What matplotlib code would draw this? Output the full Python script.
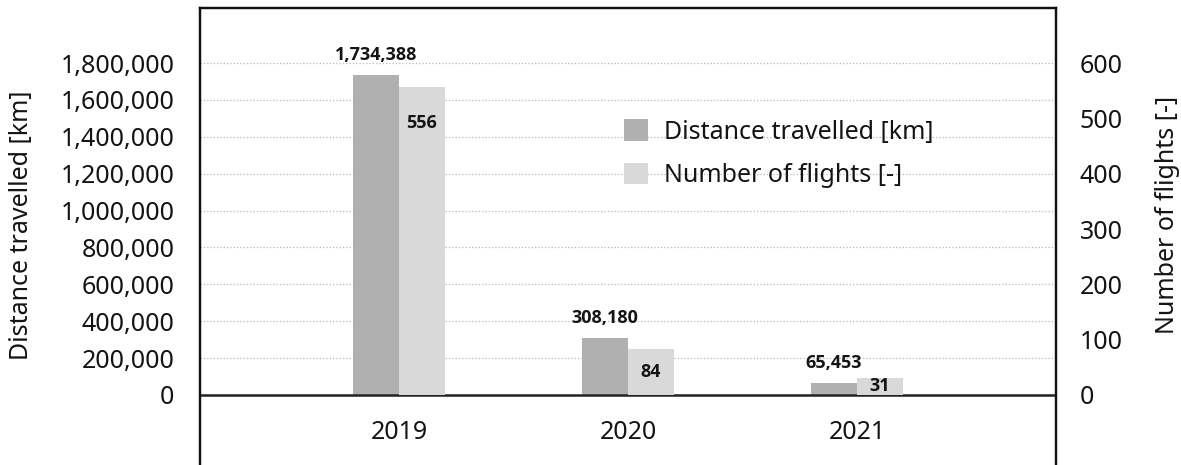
import numpy as np
import matplotlib
matplotlib.use("Agg")
import matplotlib.pyplot as plt
import matplotlib.transforms as mtransforms
from matplotlib.patches import Patch
from matplotlib.ticker import FuncFormatter

years = ["2019", "2020", "2021"]
distance_km = [1734388, 308180, 65453]
flights = [556, 84, 31]

dark = "#b0b0b0"
light = "#d9d9d9"
ink = "#141414"

plt.rcParams["font.family"] = ["Noto Sans", "DejaVu Sans"]
plt.rcParams["text.color"] = ink
bold_font = ["Open Sans", "DejaVu Sans"]

fig = plt.figure(figsize=(11.81, 4.65), dpi=100)
ax = fig.add_axes([200 / 1181, 0, 856 / 1181, 457 / 465])
ax2 = ax.twinx()

x = np.arange(len(years))
w = 0.2
ax.bar(x - w / 2, distance_km, w, color=dark, zorder=2)
ax2.bar(x + w / 2, flights, w, color=light, zorder=2)

# both axes share one scale: 1 flight = 3000 km
ratio = 3000
ymin, ymax = -379600, 2098400
ax.set_xlim(-0.87, 2.87)
ax.set_ylim(ymin, ymax)
ax2.set_ylim(ymin / ratio, ymax / ratio)

ax.set_yticks(range(0, 1800001, 200000))
ax.yaxis.set_major_formatter(FuncFormatter(lambda v, p: f"{int(v):,}"))
ax2.set_yticks(range(0, 601, 100))
ax.set_xticks([])

ax.tick_params(axis="y", length=0, pad=18.5, labelsize=18, labelcolor=ink)
ax2.tick_params(axis="y", length=0, pad=17, labelsize=18, labelcolor=ink)

ax.set_axisbelow(True)
ax.yaxis.grid(True, linestyle=":", color="#b8b8b8", linewidth=0.9)
ax.axhline(0, color="#222222", linewidth=1.8, zorder=3)

for a in (ax, ax2):
    a.spines["bottom"].set_visible(False)
    for s in ("left", "right", "top"):
        a.spines[s].set_linewidth(1.6)
        a.spines[s].set_color("#111111")

# category labels sit inside the frame, below the zero line
trans = mtransforms.blended_transform_factory(ax.transData, ax.transAxes)
for xi, yr in zip(x, years):
    ax.text(xi, 0.072, yr, transform=trans, ha="center", va="center", fontsize=18)

# value labels
for xi, v in zip(x, distance_km):
    ax.annotate(f"{v:,}", (xi - w / 2, v), xytext=(0, 14.4), textcoords="offset points",
                ha="center", va="center", fontsize=13, fontweight="bold", family=bold_font)
for xi, v in zip(x, flights):
    ax2.text(xi + w / 2, max(v / 2, v - 65), f"{v}", ha="center", va="center",
             fontsize=13, fontweight="bold", family=bold_font, zorder=4)

fig.text(22 / 1181, 1 - 225 / 465, "Distance travelled [km]", rotation=90,
         ha="center", va="center", fontsize=18)
fig.text(1168 / 1181, 1 - 215 / 465, "Number of flights [-]", rotation=90,
         ha="center", va="center", fontsize=18)

handles = [Patch(facecolor=dark), Patch(facecolor=light)]
ax2.legend(handles, ["Distance travelled [km]", "Number of flights [-]"],
           loc="center left", bbox_to_anchor=(0.4953, 0.6816), frameon=False,
           borderpad=0, borderaxespad=0, handlelength=0.95, handleheight=0.95,
           handletextpad=0.65, labelspacing=0.72, fontsize=18)

fig.savefig("out.png", dpi=100)
